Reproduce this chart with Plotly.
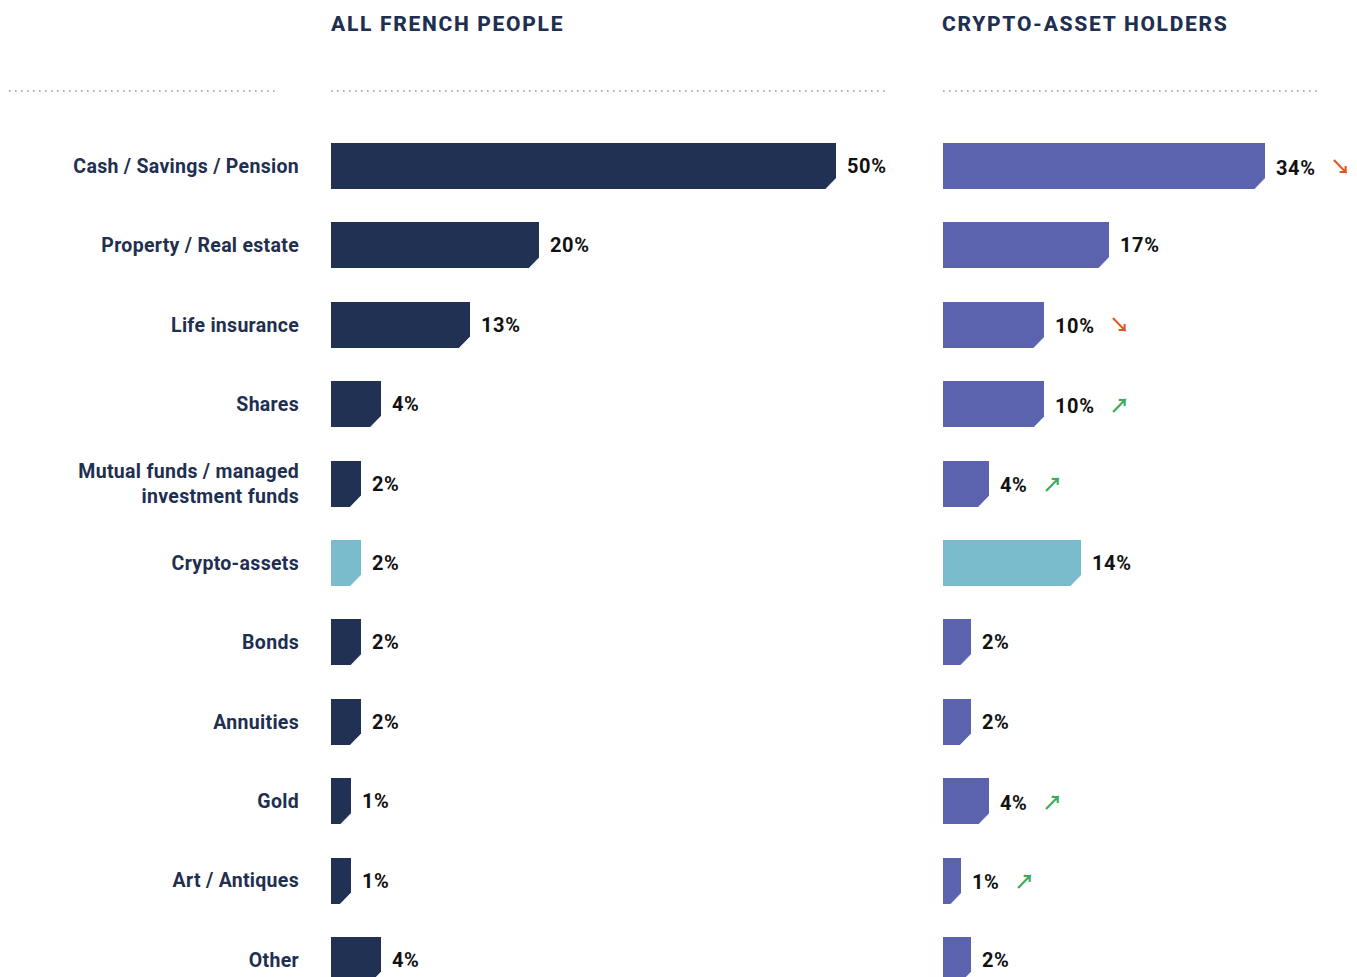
import plotly.graph_objects as go

# ---------------- data ----------------
categories = [
    "Cash / Savings / Pension",
    "Property / Real estate",
    "Life insurance",
    "Shares",
    "Mutual funds / managed<br>investment funds",
    "Crypto-assets",
    "Bonds",
    "Annuities",
    "Gold",
    "Art / Antiques",
    "Other",
]
all_french = [50, 20, 13, 4, 2, 2, 2, 2, 1, 1, 4]
crypto_holders = [34, 17, 10, 10, 4, 14, 2, 2, 4, 1, 2]
holder_trend = ["down", "", "down", "up", "up", "", "", "", "up", "up", ""]
panel_titles = ["ALL FRENCH PEOPLE", "CRYPTO-ASSET HOLDERS"]
highlight = "Crypto-assets"

# ---------------- styling / geometry ----------------
W, H = 1357, 977
NAVY = "#213153"
PURPLE = "#5B63AE"
TEAL = "#7BBCCC"
TEXT_NAVY = "#1F2F50"
ORANGE = "#E0561E"
GREEN = "#3BAA5E"
DOT = "#9A9A9A"

row_px = 79.4          # pixel spacing between rows
first_row_px = 166     # pixel centre of first row
plot_top_px = 100
bar_px = 46
chamfer_px = 11
base = -1              # bars start a little left of zero (minimum stub)

L0, L1 = 331, 886      # left panel pixel extent
R0, R1 = 943, 1318     # right panel pixel extent
scale_left = 9.9       # px per percentage point
scale_right = 9.2

n = len(categories)
idx = list(range(n))
y_top = (plot_top_px - first_row_px) / row_px
y_bot = (H - first_row_px) / row_px
bar_w = bar_px / row_px


def spaced(text, ls):
    return "<br>".join(
        f"<span style='letter-spacing:{ls}px'>{part}</span>" for part in text.split("<br>")
    )


fig = go.Figure()


def add_panel(values, main_color, xa, ya, scale):
    colors = [TEAL if c == highlight else main_color for c in categories]
    fig.add_trace(go.Bar(
        x=[v - base for v in values], base=base, y=idx, orientation="h",
        width=bar_w, marker=dict(color=colors, line=dict(width=0)),
        xaxis=xa, yaxis=ya, hoverinfo="skip", showlegend=False,
    ))
    # chamfer the bottom-right corner of every bar
    cx = chamfer_px / scale
    cy = chamfer_px / row_px
    tx, ty = [], []
    for i, v in zip(idx, values):
        yb = i + bar_w / 2
        tx += [v - cx, v + 0.05, v + 0.05, v - cx, None]
        ty += [yb + 0.01, yb + 0.01, yb - cy, yb + 0.01, None]
    fig.add_trace(go.Scatter(
        x=tx, y=ty, mode="lines", fill="toself", fillcolor="white",
        line=dict(color="white", width=0.6), xaxis=xa, yaxis=ya,
        hoverinfo="skip", showlegend=False,
    ))


add_panel(all_french, NAVY, "x", "y", scale_left)
add_panel(crypto_holders, PURPLE, "x2", "y2", scale_right)

annotations = []
val_font = dict(family="Roboto", size=20, color="#111111", weight=700)
arrow_style = "font-family:Noto Sans CJK JP;font-weight:700;letter-spacing:0px"
for i, v in zip(idx, all_french):
    annotations.append(dict(x=v, y=i, xref="x", yref="y", text=spaced(f"{v}%", 0.6),
                            showarrow=False, xanchor="left", yanchor="middle",
                            xshift=9, font=val_font))
for i, (v, t) in zip(idx, zip(crypto_holders, holder_trend)):
    txt = spaced(f"{v}%", 0.6)
    if t == "down":
        txt += "\u00a0\u00a0\u00a0<span style='color:%s;%s'>\u2198</span>" % (ORANGE, arrow_style)
    elif t == "up":
        txt += "\u00a0\u00a0\u00a0<span style='color:%s;%s'>\u2197</span>" % (GREEN, arrow_style)
    annotations.append(dict(x=v, y=i, xref="x2", yref="y2", text=txt,
                            showarrow=False, xanchor="left", yanchor="middle",
                            xshift=9, font=val_font))

title_font = dict(family="Roboto", size=21, color=TEXT_NAVY, weight=800)
for title, x0 in zip(panel_titles, [L0 - 2, R0 - 3]):
    annotations.append(dict(x=x0 / W, y=1 - 24 / H, xref="paper", yref="paper",
                            text=spaced(title, 1.7), showarrow=False, xanchor="left",
                            yanchor="middle", font=title_font))

shapes = []
for a, b in [(9, 275), (L0, L1), (R0, R1)]:
    shapes.append(dict(type="line", xref="paper", yref="paper",
                       x0=a / W, x1=b / W, y0=1 - 91 / H, y1=1 - 91 / H,
                       line=dict(color=DOT, width=1.6, dash="1.6px,4.4px")))

ydom = [0, 1 - plot_top_px / H]
fig.update_layout(
    width=W, height=H,
    margin=dict(l=0, r=0, t=0, b=0),
    paper_bgcolor="white", plot_bgcolor="white",
    bargap=0,
    annotations=annotations, shapes=shapes,
    xaxis=dict(domain=[L0 / W, L1 / W], range=[base, base + (L1 - L0) / scale_left],
               visible=False, fixedrange=True),
    xaxis2=dict(domain=[R0 / W, R1 / W], range=[base, base + (R1 - R0) / scale_right],
                visible=False, fixedrange=True),
    yaxis=dict(domain=ydom, range=[y_bot, y_top], tickvals=idx,
               ticktext=[spaced(c, 0.3) for c in categories],
               showgrid=False, zeroline=False, showline=False, ticks="",
               ticklabelstandoff=31,
               tickfont=dict(family="Roboto", size=19.5, color=TEXT_NAVY, weight=700),
               fixedrange=True),
    yaxis2=dict(domain=ydom, range=[y_bot, y_top], anchor="x2", showticklabels=False,
                showgrid=False, zeroline=False, showline=False, fixedrange=True),
)

fig.write_html("out.html")
